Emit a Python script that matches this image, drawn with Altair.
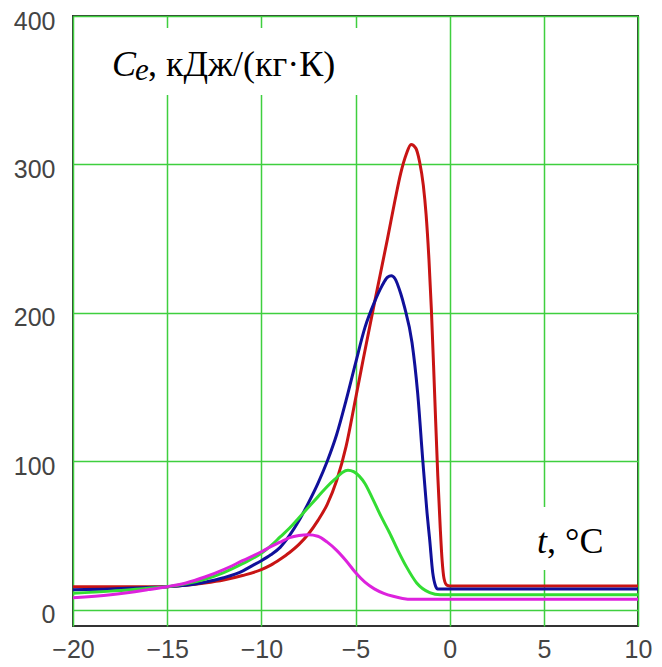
import altair as alt
import pandas as pd

# ---- data ----
red_t = [-20, -18, -16, -15, -14, -13, -12, -11, -10, -9.5, -9, -8.5, -8, -7.5, -7, -6.5, -6, -5.5, -5, -4.6,
         -4.1, -3.7, -3.3, -2.9, -2.6, -2.3, -2.05, -1.8, -1.6, -1.4, -1.25, -1.1, -0.97, -0.8, -0.63, -0.5,
         -0.4, -0.3, -0.15, 0, 10]
red_v = [15.5, 15.5, 15.5, 15.5, 16.5, 18, 20, 23, 27, 30, 34, 38.5, 44, 51, 60, 71, 87, 110, 142, 168,
         200, 225, 250, 276, 294, 307, 313.5, 311, 302, 286, 266, 236, 202, 146, 90, 55,
         33, 21, 16.5, 16, 16]

blue_t = [-20, -18, -16, -15, -14, -13, -12, -11, -10.5, -10, -9.5, -9, -8.5, -8, -7.5, -7, -6.5, -6, -5.5, -5,
          -4.5, -4, -3.6, -3.3, -3.1, -2.9, -2.6, -2.4, -2.0, -1.7, -1.43, -1.2, -1.06, -0.9, -0.75, -0.64, 0, 10]
blue_v = [13.5, 14, 15, 15.5, 16.5, 18.5, 21.5, 26, 29.5, 33, 37, 42, 50, 60, 72, 85, 100, 118, 141, 166,
          190, 207, 218, 224, 225, 223, 213, 204, 180, 146, 101, 65, 47, 25, 16, 14, 14, 14]

green_t = [-20, -18, -16, -15, -14, -13, -12, -11, -10, -9.5, -9, -8.5, -8, -7.5, -7, -6.5, -6, -5.7, -5.4, -5.1,
           -4.8, -4.5, -4.1, -3.65, -3.2, -2.75, -2.3, -1.75, -1.06, -0.5, 0, 10]
green_v = [11, 12.5, 14.5, 15.5, 17.5, 20.5, 25, 31, 38, 43, 49, 55, 62, 69, 76, 83, 89, 92.5, 94, 93,
           90, 85, 75, 63, 52, 40, 29, 18, 11.5, 10, 10, 10]

magenta_t = [-20, -18, -16, -15, -14, -13, -12, -11, -10, -9.5, -9, -8.5, -8, -7.5, -7, -6.5, -6, -5.5, -5, -4.5,
             -4, -3.5, -3, -2.5, -2, 10]
magenta_v = [8, 10, 13.5, 15.5, 18, 22, 27, 33, 39, 42.5, 45.5, 48.5, 50, 50.5, 49.5, 45.5, 40, 33, 25, 18.5,
             14, 11, 9, 7.6, 7, 7]

series_names = ["red", "blue", "green", "magenta"]
series_colors = ["#c81414", "#10109a", "#33dd33", "#dd22dd"]

x_ticks = [-20, -15, -10, -5, 0, 5, 10]
y_ticks = [0, 100, 200, 300, 400]

rows = []
for name, ts, vs in zip(series_names, [red_t, blue_t, green_t, magenta_t],
                        [red_v, blue_v, green_v, magenta_v]):
    for i, (t, v) in enumerate(zip(ts, vs)):
        rows.append({"series": name, "t": t, "v": v, "i": i})
df = pd.DataFrame(rows)

W, H = 565, 610
grid_green = "#3fcf3f"

x_scale = alt.Scale(domain=[-20, 10], nice=False, zero=False)
y_scale = alt.Scale(domain=[-11, 400], nice=False, zero=False)

lines = alt.Chart(df).mark_line(strokeWidth=3, interpolate="monotone", clip=True).encode(
    x=alt.X("t:Q", scale=x_scale,
            axis=alt.Axis(values=x_ticks, title=None, grid=True, gridColor=grid_green, gridWidth=1.5,
                          domain=False, ticks=False, labelFont="Liberation Sans", labelFontSize=25,
                          labelColor="#444444", labelPadding=11, labelFlush=False)),
    y=alt.Y("v:Q", scale=y_scale,
            axis=alt.Axis(values=y_ticks, title=None, grid=True, gridColor=grid_green, gridWidth=1.5,
                          domain=False, ticks=False, labelFont="Liberation Sans", labelFontSize=25,
                          labelColor="#444444", labelPadding=18, labelOffset=5, labelFlush=False)),
    color=alt.Color("series:N", scale=alt.Scale(domain=series_names, range=series_colors), legend=None),
    detail="series:N",
    order="i:Q",
)

one = pd.DataFrame({"k": [0]})

box1 = alt.Chart(one).mark_rect(color="white").encode(
    x=alt.value(15), x2=alt.value(299), y=alt.value(12), y2=alt.value(79))
box2 = alt.Chart(one).mark_rect(color="white").encode(
    x=alt.value(444), x2=alt.value(563), y=alt.value(491), y2=alt.value(554))

serif = "Liberation Serif"
t_C = alt.Chart(one).mark_text(text="C", font=serif, fontSize=36, fontStyle="italic", align="left",
                               baseline="alphabetic", color="black").encode(x=alt.value(39), y=alt.value(60))
t_e = alt.Chart(one).mark_text(text="e", font=serif, fontSize=31, fontStyle="italic", align="left",
                               baseline="alphabetic", color="black").encode(x=alt.value(62), y=alt.value(64))
t_unit = alt.Chart(one).mark_text(text=", кДж/(кг·К)", font=serif, fontSize=36, align="left",
                                  baseline="alphabetic", color="black").encode(x=alt.value(75), y=alt.value(60))
t_t = alt.Chart(one).mark_text(text="t", font=serif, fontSize=36, fontStyle="italic", align="left",
                               baseline="alphabetic", color="black").encode(x=alt.value(464), y=alt.value(537))
t_deg = alt.Chart(one).mark_text(text=", °C", font=serif, fontSize=36, align="left",
                                 baseline="alphabetic", color="black").encode(x=alt.value(474), y=alt.value(537))

chart = alt.layer(lines, box1, box2, t_C, t_e, t_unit, t_t, t_deg).properties(
    width=W, height=H,
    autosize=alt.AutoSizeParams(type="none"),
    padding={"left": 65, "top": 8, "right": 15, "bottom": 35},
    background="white",
).configure_view(stroke="#333333", strokeWidth=2)

chart.save("out.html", embed_options={"renderer": "svg", "actions": False})
